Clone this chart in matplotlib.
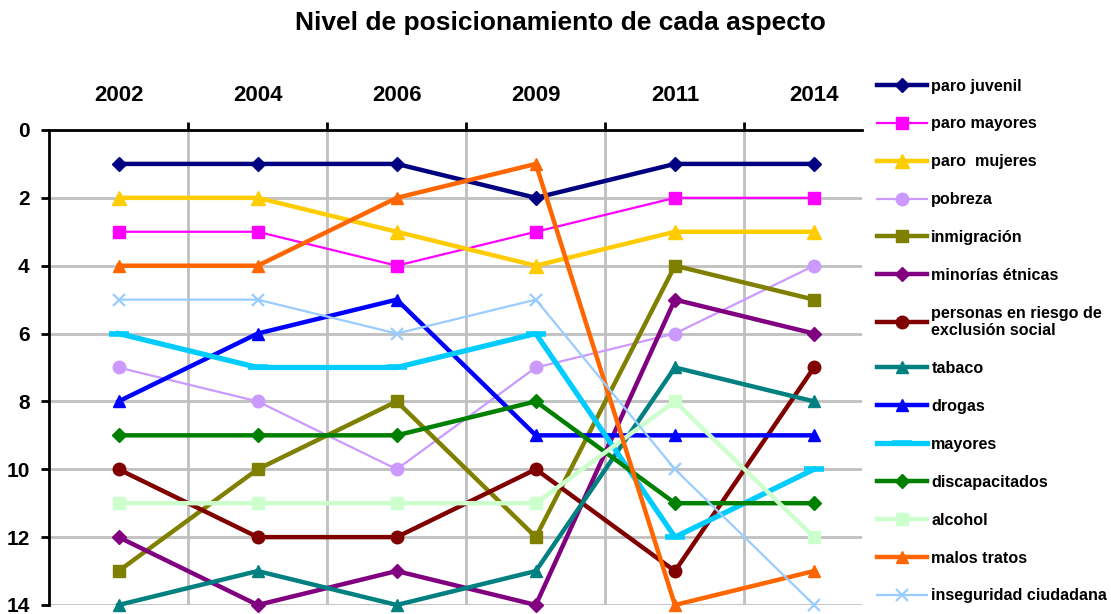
import numpy as np
import matplotlib
matplotlib.use("Agg")
import matplotlib.pyplot as plt

plt.rcParams['font.family'] = ['Liberation Sans', 'DejaVu Sans']
plt.rcParams['font.weight'] = 'bold'

years = ['2002', '2004', '2006', '2009', '2011', '2014']

# ranking of each aspect per year (1 = top)
paro_juvenil = [1, 1, 1, 2, 1, 1]
paro_mayores = [3, 3, 4, 3, 2, 2]
paro_mujeres = [2, 2, 3, 4, 3, 3]
pobreza = [7, 8, 10, 7, 6, 4]
inmigracion = [13, 10, 8, 12, 4, 5]
minorias = [12, 14, 13, 14, 5, 6]
personas_riesgo = [10, 12, 12, 10, 13, 7]
tabaco = [14, 13, 14, 13, 7, 8]
drogas = [8, 6, 5, 9, 9, 9]
mayores = [6, 7, 7, 6, 12, 10]
discapacitados = [9, 9, 9, 8, 11, 11]
alcohol = [11, 11, 11, 11, 8, 12]
malos_tratos = [4, 4, 2, 1, 14, 13]
inseguridad = [5, 5, 6, 5, 10, 14]

# (label, values, color, marker, markersize, linewidth)
series = [
    ('paro juvenil', paro_juvenil, '#000080', 'D', 7, 3.2),
    ('paro mayores', paro_mayores, '#FF00FF', 's', 9, 1.6),
    ('paro  mujeres', paro_mujeres, '#FFCC00', '^', 10, 3.2),
    ('pobreza', pobreza, '#CC99FF', 'o', 9, 1.6),
    ('inmigración', inmigracion, '#808000', 's', 9, 3.2),
    ('minorías étnicas', minorias, '#800080', 'D', 7, 3.2),
    ('personas en riesgo de\nexclusión social', personas_riesgo, '#800000', 'o', 9, 3.2),
    ('tabaco', tabaco, '#008080', '^', 9, 3.2),
    ('drogas', drogas, '#0000FF', '^', 9, 3.2),
    ('mayores', mayores, '#00CCFF', '_', 14, 3.8),
    ('discapacitados', discapacitados, '#008000', 'D', 7, 3.2),
    ('alcohol', alcohol, '#CCFFCC', 's', 9, 3.2),
    ('malos tratos', malos_tratos, '#FF6600', '^', 9, 3.2),
    ('inseguridad ciudadana', inseguridad, '#99CCFF', 'x', 9, 1.6),
]

fig = plt.figure(figsize=(11.11, 6.14), dpi=100)
ax = fig.add_axes([0.0441, 0.0147, 0.7318, 0.7736])

x = np.arange(len(years))
for label, vals, color, marker, ms, lw in series:
    mew = 4 if marker == '_' else (1.6 if marker == 'x' else 1)
    ax.plot(x, vals, color=color, lw=lw, marker=marker, ms=ms, mew=mew,
            mec=color, mfc=color, label=label, clip_on=False, zorder=3)

# axes setup
ax.set_ylim(14, 0)
ax.set_yticks(range(0, 15, 2))
ax.set_xlim(-0.5, 5.345)
ax.xaxis.tick_top()
ax.set_xticks(x)
ax.set_xticklabels(years, fontsize=16, fontweight='bold')
ax.set_xticks(np.arange(0.5, 5, 1), minor=True)
ax.tick_params(axis='x', which='major', length=0, pad=17)
ax.tick_params(axis='x', which='minor', length=6, width=2, direction='out')
ax.tick_params(axis='y', length=6, width=2, direction='out', pad=8, labelsize=15)
for t in ax.get_yticklabels():
    t.set_fontweight('bold')

ax.grid(True, which='minor', axis='x', color='#C0C0C0', lw=2)
ax.grid(True, which='major', axis='y', color='#C0C0C0', lw=2)
ax.set_axisbelow(True)

ax.spines['right'].set_visible(False)
ax.spines['bottom'].set_visible(False)
ax.spines['top'].set_linewidth(2)
ax.spines['left'].set_linewidth(2)

fig.suptitle('Nivel de posicionamiento de cada aspecto', x=0.504, y=0.982,
             fontsize=19, fontweight='bold')

leg = ax.legend(loc='upper left', bbox_to_anchor=(0.789, 0.872),
                bbox_transform=fig.transFigure, frameon=False,
                fontsize=11.6, handlelength=3.15, handletextpad=0.25,
                labelspacing=1.42, borderpad=0, borderaxespad=0)
for txt in leg.get_texts():
    txt.set_fontweight('bold')

plt.savefig('out.png', dpi=100)
